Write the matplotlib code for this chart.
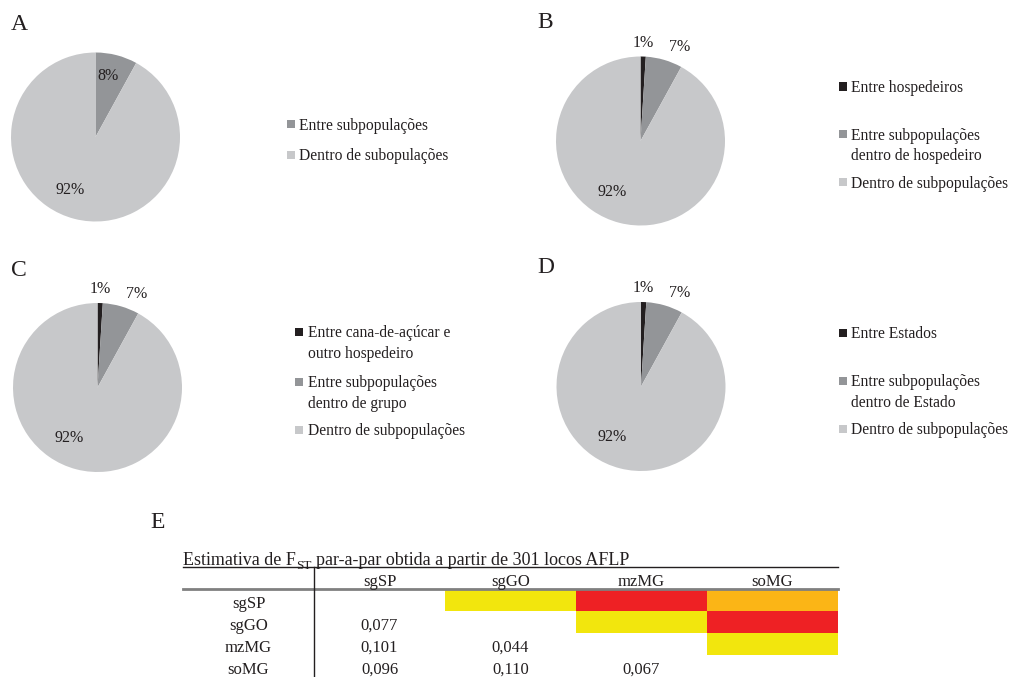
# Partition of AFLP variation (AMOVA) for four groupings + pairwise FST table

import numpy as np
import matplotlib
matplotlib.use('Agg')
import matplotlib.pyplot as plt

plt.rcParams['font.family'] = ['Liberation Serif', 'DejaVu Serif']

# ---------------- data ----------------

values_a = [8, 92]
labels_a = ['Entre subpopulações', 'Dentro de subopulações']

values_b = [1, 7, 92]
labels_b = ['Entre hospedeiros',
            'Entre subpopulações\ndentro de hospedeiro',
            'Dentro de subpopulações']

values_c = [1, 7, 92]
labels_c = ['Entre cana-de-açúcar e\noutro hospedeiro',
            'Entre subpopulações\ndentro de grupo',
            'Dentro de subpopulações']

values_d = [1, 7, 92]
labels_d = ['Entre Estados',
            'Entre subpopulações\ndentro de Estado',
            'Dentro de subpopulações']

pops = ['sgSP', 'sgGO', 'mzMG', 'soMG']
# lower triangle of pairwise FST (row i, col j, j < i)
fst = [[None, None, None, None],
       [0.077, None, None, None],
       [0.101, 0.044, None, None],
       [0.096, 0.110, 0.067, None]]

# ---------------- style ----------------

W, H = 1012, 677
TXT = '#231f20'
C_BLACK = '#231f20'
C_DARK = '#939598'
C_LIGHT = '#c7c8ca'
FS = 11.5
FS_LEG = 11.2
FS_TAB = 12


def fx(x):
    return x / W


def fy(y):
    return 1 - y / H


def fst_color(v):
    if v < 0.09:
        return '#f2e60d'
    if v < 0.1:
        return '#fbb516'
    return '#ee2124'


fig = plt.figure(figsize=(W / 100, H / 100), dpi=100)


def draw_pie(cx, cy, r, values, colors, label_pos):
    ax = fig.add_axes([fx(cx - r), fy(cy + r), 2 * r / W, 2 * r / H])
    ax.pie(values, colors=colors, startangle=90, counterclock=False,
           radius=1, wedgeprops=dict(linewidth=0))
    ax.set_xlim(-1, 1)
    ax.set_ylim(-1, 1)
    ax.set_aspect('auto')
    ax.axis('off')
    for v, (px, py) in zip(values, label_pos):
        ax.text(px, py, '%d%%' % v, ha='center', va='center',
                fontsize=FS, color=TXT, clip_on=False)
    return ax


def draw_legend(x, ys, labels, colors, line_gap=20.5):
    for y, lab, c in zip(ys, labels, colors):
        fig.patches.append(plt.Rectangle((fx(x - 4), fy(y + 4)), 8 / W, 8 / H,
                                         transform=fig.transFigure,
                                         facecolor=c, edgecolor='none'))
        for i, line in enumerate(lab.split('\n')):
            fig.text(fx(x + 8), fy(y + 1.5 + i * line_gap), line,
                     ha='left', va='center', fontsize=FS_LEG, color=TXT)


# A
draw_pie(95.5, 137, 84.5, values_a, [C_DARK, C_LIGHT],
         [(0.15, 0.72), (-0.30, -0.63)])
draw_legend(291, [124, 155], labels_a, [C_DARK, C_LIGHT])
fig.text(fx(11), fy(24), 'A', fontsize=17, color=TXT, va='center', ha='left')

# B
pos3 = [(0.03, 1.16), (0.46, 1.11), (-0.34, -0.60)]
draw_pie(640.5, 141, 84.5, values_b, [C_BLACK, C_DARK, C_LIGHT], pos3)
draw_legend(843, [86.5, 134, 182], labels_b, [C_BLACK, C_DARK, C_LIGHT])
fig.text(fx(537), fy(22), 'B', fontsize=17, color=TXT, va='center', ha='left')

# C
draw_pie(97.5, 387.5, 84.5, values_c, [C_BLACK, C_DARK, C_LIGHT], pos3)
draw_legend(299.5, [332, 381.5, 429.5], labels_c, [C_BLACK, C_DARK, C_LIGHT])
fig.text(fx(11), fy(271), 'C', fontsize=17, color=TXT, va='center', ha='left')

# D
draw_pie(641, 386.5, 84.5, values_d, [C_BLACK, C_DARK, C_LIGHT], pos3)
draw_legend(843, [333, 381, 428.5], labels_d, [C_BLACK, C_DARK, C_LIGHT])
fig.text(fx(537), fy(268), 'D', fontsize=17, color=TXT, va='center', ha='left')

# E - pairwise FST table
fig.text(fx(150), fy(522), 'E', fontsize=17, color=TXT, va='center', ha='left')

n = len(pops)
tx0, tx1, ty0, ty1 = 183, 838, 567, 677
tab = fig.add_axes([fx(tx0), fy(ty1), (tx1 - tx0) / W, (ty1 - ty0) / H])
tab.set_xlim(0, n + 1)
tab.set_ylim(n + 1, 0)
tab.axis('off')

BASE = 0.86  # baseline position inside a row

# coloured upper triangle (mirror of lower triangle values)
for i in range(n):
    for j in range(n):
        if j > i and fst[j][i] is not None:
            tab.add_patch(plt.Rectangle((j + 1, i + 1), 1, 1,
                                        facecolor=fst_color(fst[j][i]),
                                        edgecolor='none'))
        elif j < i:
            tab.text(j + 1.5, i + 1 + BASE, ('%.3f' % fst[i][j]).replace('.', ','),
                     ha='center', va='baseline', fontsize=FS_TAB, color=TXT)

for k, p in enumerate(pops):
    tab.text(k + 1.5, BASE, p, ha='center', va='baseline',
             fontsize=FS_TAB, color=TXT)
    tab.text(0.5, k + 1 + BASE, p, ha='center', va='baseline',
             fontsize=FS_TAB, color=TXT)

tab.plot([0, n + 1], [0, 0], color=TXT, lw=1.0, clip_on=False)
tab.plot([0, n + 1], [1, 1], color='#808080', lw=2.0, clip_on=False)
tab.plot([1, 1], [0, n + 1], color=TXT, lw=1.0, clip_on=False)

# table caption: F with a lowered "ST" subscript
t1 = fig.text(fx(tx0), fy(565), 'Estimativa de F', ha='left', va='baseline',
              fontsize=13, color=TXT)
t2 = fig.text(0, 0, 'ST', ha='left', va='baseline', fontsize=9.5, color=TXT)
t3 = fig.text(0, 0, 'par-a-par obtida a partir de 301 locos AFLP',
              ha='left', va='baseline', fontsize=13, color=TXT)
fig.canvas.draw()
r = fig.canvas.get_renderer()
bb1 = t1.get_window_extent(r)
t2.set_position((bb1.x1 / W, fy(569)))
fig.canvas.draw()
bb2 = t2.get_window_extent(r)
t3.set_position(((bb2.x1 + 5) / W, fy(565)))

fig.savefig('out.png', dpi=100, facecolor='white')
